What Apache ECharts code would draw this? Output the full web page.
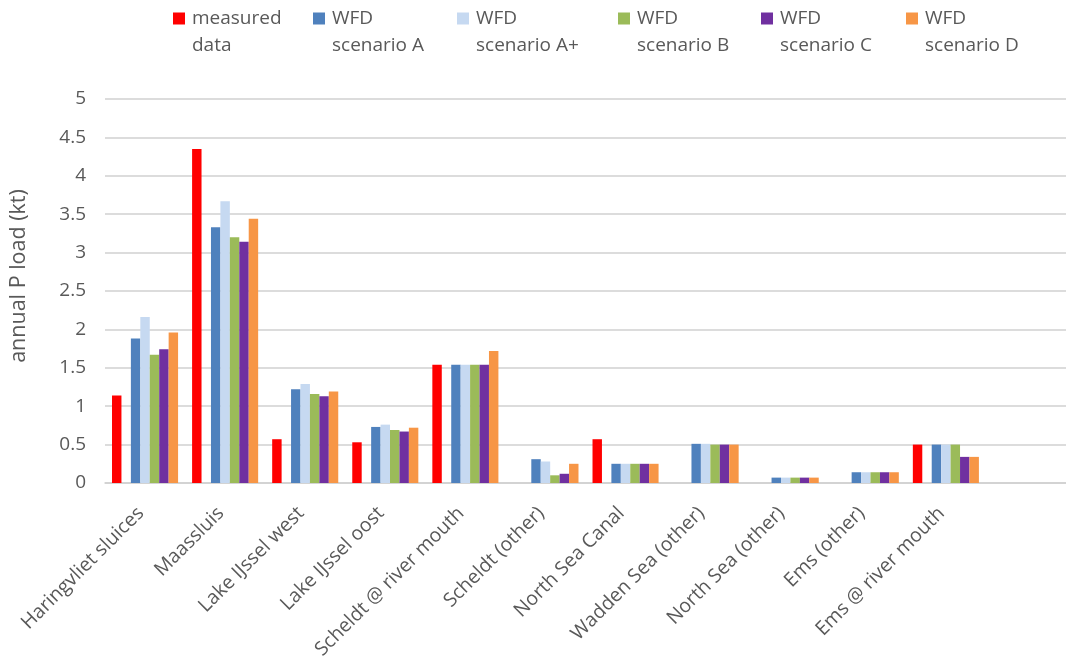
<!DOCTYPE html>
<html>
<head>
<meta charset="utf-8">
<script src="https://cdn.jsdelivr.net/npm/echarts@6/dist/echarts.min.js"></script>
<style>
  html, body { margin: 0; padding: 0; background: #ffffff; }
  #chart { width: 1066px; height: 662px; }
</style>
</head>
<body>
<div id="chart"></div>
<script>
// Annual phosphorus load per outlet: measured vs. WFD scenarios (kt)
const categories = [
  'Haringvliet sluices', 'Maassluis', 'Lake IJssel west', 'Lake IJssel oost',
  'Scheldt @ river mouth', 'Scheldt (other)', 'North Sea Canal', 'Wadden Sea (other)',
  'North Sea (other)', 'Ems (other)', 'Ems @ river mouth', ''
];

const measured  = [1.14, 4.35, 0.57, 0.53, 1.54, null, 0.57, null, null, null, 0.50, null];
const scenarioA = [1.88, 3.33, 1.22, 0.73, 1.54, 0.31, 0.25, 0.51, 0.07, 0.14, 0.50, null];
const scenarioAplus = [2.16, 3.67, 1.29, 0.76, 1.54, 0.28, 0.25, 0.51, 0.07, 0.14, 0.50, null];
const scenarioB = [1.67, 3.20, 1.16, 0.69, 1.54, 0.10, 0.25, 0.50, 0.07, 0.14, 0.50, null];
const scenarioC = [1.74, 3.14, 1.13, 0.67, 1.54, 0.12, 0.25, 0.50, 0.07, 0.14, 0.34, null];
const scenarioD = [1.96, 3.44, 1.19, 0.72, 1.72, 0.25, 0.25, 0.50, 0.07, 0.14, 0.34, null];

const seriesNames = [
  'measured\ndata', 'WFD\nscenario A', 'WFD\nscenario A+',
  'WFD\nscenario B', 'WFD\nscenario C', 'WFD\nscenario D'
];
const seriesColors = ['#FF0000', '#4F81BD', '#C6D9F1', '#9BBB59', '#7030A0', '#F79646'];
const seriesData = [measured, scenarioA, scenarioAplus, scenarioB, scenarioC, scenarioD];

const yTicks = { min: 0, max: 5, interval: 0.5 };

const FONT = '"Open Sans", "DejaVu Sans", sans-serif';
const TEXT_COLOR = '#595959';

// Legend entries are laid out one per slot across the top
const legendLefts = [173, 313, 457, 618, 761, 906];

const series = [];
seriesNames.forEach((name, i) => {
  series.push({
    name: name,
    type: 'bar',
    data: seriesData[i],
    itemStyle: { color: seriesColors[i] },
    barGap: '0%',
    barCategoryGap: '17.5%',
    animation: false
  });
  // an empty slot sits between the measured bar and the scenario bars
  if (i === 0) {
    series.push({
      name: 'spacer',
      type: 'bar',
      data: categories.map(() => null),
      barGap: '0%',
      barCategoryGap: '17.5%',
      animation: false
    });
  }
});

// a blank leading line keeps the swatch level with the first text line
const legends = seriesNames.map((name, i) => ({
  data: [name],
  left: legendLefts[i],
  top: -22,
  padding: 0,
  itemWidth: 12,
  itemHeight: 12,
  icon: 'rect',
  selectedMode: false,
  formatter: (n) => ' \n' + n,
  textStyle: {
    fontFamily: FONT,
    fontSize: 19,
    color: TEXT_COLOR,
    lineHeight: 27,
    padding: [0, 0, 0, 2]
  }
}));

const chart = echarts.init(document.getElementById('chart'), null, { renderer: 'canvas' });
chart.setOption({
  backgroundColor: '#ffffff',
  animation: false,
  legend: legends,
  grid: { left: 100, top: 99, bottom: 176, width: 970, containLabel: false },
  xAxis: {
    type: 'category',
    data: categories,
    axisLine: { show: true, lineStyle: { color: '#d0d0d0', width: 1.5 } },
    axisTick: { show: false },
    axisLabel: {
      rotate: 45,
      interval: 0,
      margin: 23,
      padding: [0, 6, 0, 0],
      fontFamily: FONT,
      fontSize: 19.5,
      color: TEXT_COLOR
    }
  },
  yAxis: {
    type: 'value',
    min: yTicks.min,
    max: yTicks.max,
    interval: yTicks.interval,
    name: 'annual P load (kt)',
    nameLocation: 'middle',
    nameGap: 75,
    nameTextStyle: {
      fontFamily: FONT,
      fontSize: 21.5,
      color: TEXT_COLOR,
      padding: [0, 0, 0, 30]
    },
    axisLine: { show: false },
    axisTick: { show: false },
    axisLabel: {
      margin: 19,
      fontFamily: FONT,
      fontSize: 19,
      color: TEXT_COLOR
    },
    splitLine: { lineStyle: { color: '#d0d0d0', width: 1.5 } }
  },
  series: series
});
</script>
</body>
</html>
